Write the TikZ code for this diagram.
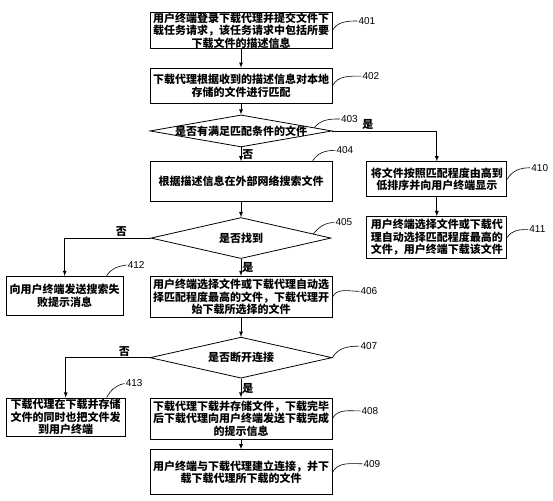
\documentclass[tikz,border=0pt]{standalone}
\usepackage{fontspec}
\setsansfont{Liberation Sans}
\newfontfamily\cjk{Noto Sans CJK SC}
\usetikzlibrary{shapes.geometric, arrows, positioning, calc}
\tikzset{
  txt/.style={font=\cjk\bfseries\fontsize{11}{12.5}\selectfont},
  proc/.style={txt,draw,line width=0.8pt,align=center,inner xsep=2pt,inner ysep=0pt},
  proc_m/.style={proc,text width=178pt},
  proc_r/.style={proc,text width=136pt},
  proc_l/.style={proc,text width=#1},
  choice/.style={diamond,draw,line width=0.8pt,inner sep=0pt,minimum width=182pt,minimum height=#1},
  flow/.style={-latex,line width=0.8pt},
  yn/.style={txt,inner sep=1pt},
  tag/.style={font=\sffamily\fontsize{10}{10}\selectfont,inner sep=1pt,anchor=west},
  tagline/.style={line width=0.6pt},
}

\begin{document}
\begin{tikzpicture}[x=1pt,y=1pt]
  \useasboundingbox (0,0) rectangle (553,500);
  % main column
  \node[proc_m,minimum height=35pt] (s401) at (241,469.5) {用户终端登录下载代理并提交文件下\\载任务请求，该任务请求中包括所要\\下载文件的描述信息};
  \node[proc_m,minimum height=35pt,below=19pt of s401] (s402) {下载代理根据收到的描述信息对本地\\存储的文件进行匹配};
  \node[choice=32pt,below=11pt of s402,label={[txt]center:是否有满足匹配条件的文件}] (s403) {};
  \node[proc_m,minimum height=40pt,below=14pt of s403] (s404) {根据描述信息在外部网络搜索文件};
  \node[choice=41pt,minimum width=180pt,below=15pt of s404,label={[txt]center:是否找到}] (s405) {};
  \node[proc_m,minimum height=41pt,below=17pt of s405] (s406) {用户终端选择文件或下载代理自动选\\择匹配程度最高的文件，下载代理开\\始下载所选择的文件};
  \node[choice=41pt,below=19pt of s406,label={[txt]center:是否断开连接}] (s407) {};
  \node[proc_m,minimum height=41pt,below=19pt of s407] (s408) {下载代理下载并存储文件，下载完毕\\后下载代理向用户终端发送下载完成\\的提示信息};
  \node[proc_m,minimum height=45pt,below=10pt of s408] (s409) {用户终端与下载代理建立连接，并下\\载下载代理所下载的文件};
  % side columns
  \node[proc_r,minimum height=35pt,right=34pt of s404.north east,anchor=north west] (s410) {将文件按照匹配程度由高到\\低排序并向用户终端显示};
  \node[proc_r,minimum height=42pt,below=19pt of s410] (s411) {用户终端选择文件或下载代\\理自动选择匹配程度最高的\\文件，用户终端下载该文件};
  \node[proc_l=113pt,minimum height=39pt,left=26pt of s406.north west,anchor=north east] (s412) {向用户终端发送搜索失\\败提示消息};
  \node[proc_l=115pt,minimum height=38pt,left=24pt of s408.north west,anchor=north east] (s413) {下载代理在下载并存储\\文件的同时也把文件发\\到用户终端};

  \draw[flow] (s401) -- (s402);
  \draw[flow] (s402) -- (s403);
  \draw[flow] (s403.east) -| node[yn,pos=0.17,above] {是} (s410.north);
  \draw[flow] (s403) -- node[yn,right] {否} (s404);
  \draw[flow] (s410) -- (s411);
  \draw[flow] (s404) -- (s405);
  \draw[flow] (s405.west) -| node[yn,pos=0.17,above] {否} (s412.north);
  \draw[flow] (s405) -- node[yn,right] {是} (s406);
  \draw[flow] (s406) -- (s407);
  \draw[flow] (s407.west) -| node[yn,pos=0.15,above] {否} (s413.north);
  \draw[flow] (s407) -- node[yn,right] {是} (s408);
  \draw[flow] (s408) -- (s409);

  % step numbers
  \node[tag] (t401) at ($(s401.east)+(25,9.5)$) {401};
  \node[tag] (t402) at ($(s402.east)+(29,9.5)$) {402};
  \node[tag] (t403) at ($(s403.east)+(7.5,12)$) {403};
  \node[tag] (t404) at ($(s404.north east)+(3,11)$) {404};
  \node[tag] (t405) at ($(s405.east)+(3,15.5)$) {405};
  \node[tag] (t406) at ($(s406.east)+(27,5.5)$) {406};
  \node[tag] (t407) at ($(s407.east)+(27,11.5)$) {407};
  \node[tag] (t408) at ($(s408.east)+(28,7.5)$) {408};
  \node[tag] (t409) at ($(s409.east)+(30,8.5)$) {409};
  \node[tag] (t410) at ($(s410.east)+(23,11.5)$) {410};
  \node[tag] (t411) at ($(s411.east)+(21,8)$) {411};
  \node[tag] (t412) at ($(s412.north east)+(3,11)$) {412};
  \node[tag] (t413) at ($(s413.north east)+(-1,14)$) {413};
  \coordinate (c403) at ($(s403.east)!0.2!(s403.north)$);
  \coordinate (c404) at ($(s404.north east)+(-20,0)$);
  \coordinate (c405) at ($(s405.east)!0.2!(s405.north)$);
  \coordinate (c412) at ($(s412.north east)+(-17,0)$);
  \coordinate (c413) at ($(s413.north east)+(-19,0)$);
  \draw[tagline] (s401.east) to[out=60,in=180] (t401.west);
  \draw[tagline] (s402.east) to[out=60,in=180] (t402.west);
  \draw[tagline] (c403) to[out=50,in=180] (t403.west);
  \draw[tagline] (c404) to[out=60,in=180] (t404.west);
  \draw[tagline] (c405) to[out=50,in=180] (t405.west);
  \draw[tagline] (s406.east) to[out=60,in=180] (t406.west);
  \draw[tagline] (s407.east) to[out=60,in=180] (t407.west);
  \draw[tagline] (s408.east) to[out=60,in=180] (t408.west);
  \draw[tagline] (s409.east) to[out=60,in=180] (t409.west);
  \draw[tagline] (s410.east) to[out=60,in=180] (t410.west);
  \draw[tagline] (s411.east) to[out=60,in=180] (t411.west);
  \draw[tagline] (c412) to[out=60,in=190] (t412.west);
  \draw[tagline] (c413) to[out=60,in=190] (t413.west);
\end{tikzpicture}
\end{document}
